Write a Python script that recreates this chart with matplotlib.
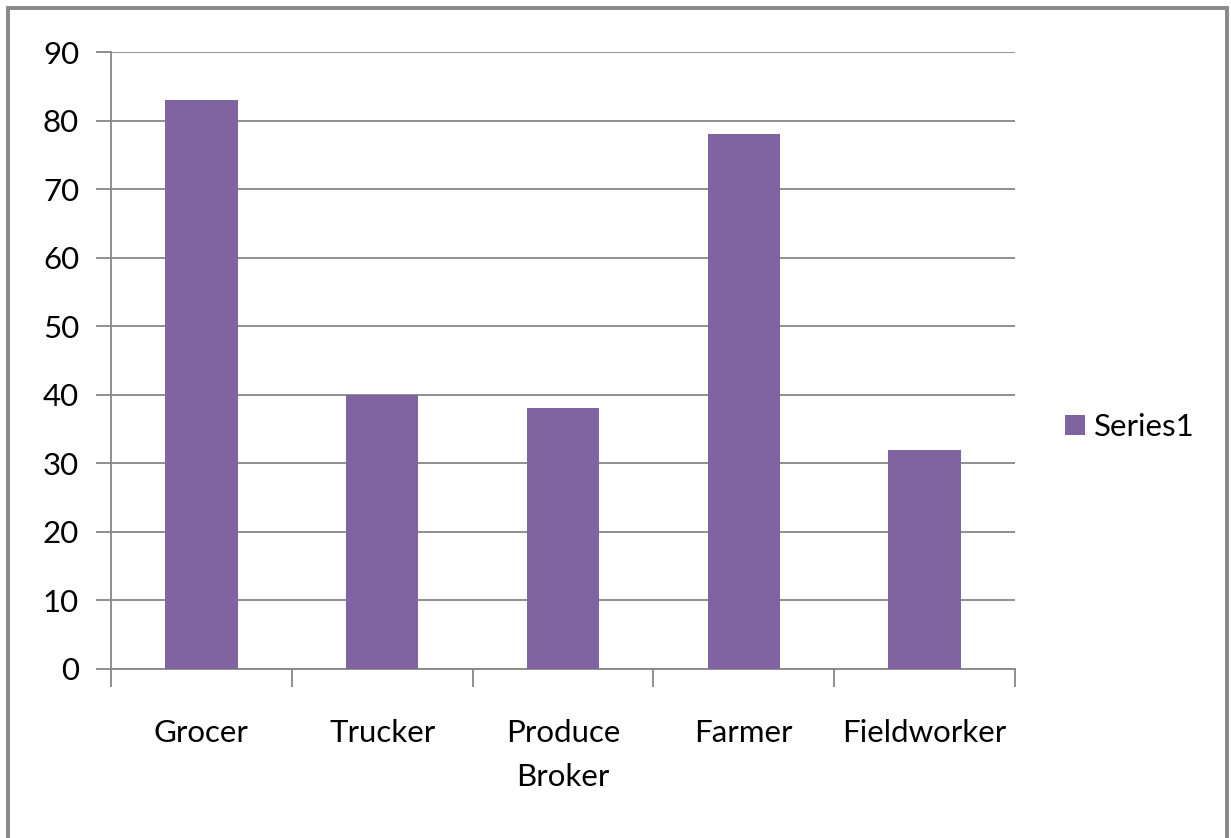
import matplotlib

matplotlib.use("Agg")

import matplotlib.pyplot as plt
from matplotlib.patches import Rectangle, Patch


categories = ["Grocer", "Trucker", "Produce\nBroker", "Farmer", "Fieldworker"]
values = [83, 40, 38, 78, 32]
yticks = list(range(0, 91, 10))

BAR_COLOR = "#8064A2"
GRID_COLOR = "#878787"

plt.rcParams["font.family"] = ["Lato", "DejaVu Sans"]

fig = plt.figure(figsize=(12.31, 8.38), dpi=100)
ax = fig.add_axes([111 / 1231, 1 - 669 / 838, (1015 - 111) / 1231, (669 - 52) / 838])

x = list(range(len(categories)))
ax.bar(x, values, width=0.4, color=BAR_COLOR, zorder=3)

ax.set_xlim(-0.5, len(categories) - 0.5)
ax.set_ylim(0, 90)
ax.set_yticks(yticks)
ax.yaxis.grid(True, color=GRID_COLOR, linewidth=1.3, zorder=0)
ax.tick_params(axis="y", length=11, width=1.3, color=GRID_COLOR, labelsize=22.5, pad=12)

# major ticks at category boundaries, labels on minor ticks at the centres
ax.set_xticks([i - 0.5 for i in range(len(categories) + 1)])
ax.set_xticklabels([])
ax.tick_params(axis="x", which="major", length=13, width=1.3, color=GRID_COLOR)
ax.set_xticks(x, minor=True)
ax.set_xticklabels(categories, minor=True, fontsize=22.5, linespacing=1.7)
ax.tick_params(axis="x", which="minor", length=0, pad=36)

for side in ["top", "right"]:
    ax.spines[side].set_visible(False)
for side in ["left", "bottom"]:
    ax.spines[side].set_color(GRID_COLOR)
    ax.spines[side].set_linewidth(1.3)

handle = Patch(facecolor=BAR_COLOR, label="Series1")
fig.legend(
    handles=[handle],
    loc="center left",
    bbox_to_anchor=(1052 / 1231, 1 - 427 / 838),
    frameon=False,
    fontsize=22.5,
    handlelength=0.65,
    handleheight=0.65,
    handletextpad=0.3,
    borderaxespad=0,
)

# outer chart border
fig.patches.append(
    Rectangle(
        (8 / 1231, -0.02),
        (1227 - 8) / 1231,
        1.02 - 8 / 838,
        transform=fig.transFigure,
        fill=False,
        edgecolor="#888888",
        linewidth=2.8,
    )
)

fig.savefig("out.png", dpi=100)
